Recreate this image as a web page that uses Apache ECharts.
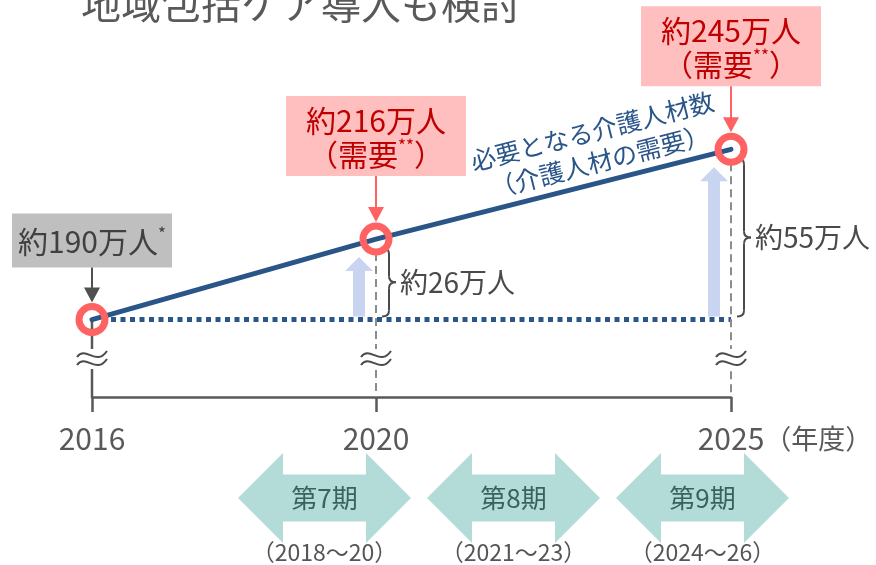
<!DOCTYPE html>
<html>
<head>
<meta charset="utf-8">
<script src="https://cdn.jsdelivr.net/npm/echarts@6/dist/echarts.min.js"></script>
<style>
  html, body { margin: 0; padding: 0; background: #fff; }
  #chart { width: 876px; height: 565px; }
</style>
</head>
<body>
<div id="chart"></div>
<script>
// ---- data ----
const title = '地域包括ケア導入も検討';
const years = [2016, 2020, 2025];
const demand = [190, 216, 245];            // 万人
const marks = ['*', '**', '**'];
const yearUnit = '（年度）';
const lineTitle = ['必要となる介護人材数', '（介護人材の需要）'];
const periods = ['第7期', '第8期', '第9期'];
const periodRanges = ['（2018～20）', '（2021～23）', '（2024～26）'];

const base = demand[0];
const points = years.map((y, i) => [y, demand[i]]);
const gaps = years.slice(1).map((y, i) => [y, base, demand[i + 1]]);

// ---- styles ----
const FONT = '"Noto Sans CJK JP", "Noto Sans", sans-serif';
const BLUE = '#2a5589';
const RING = '#ff6262';
const DARK = '#4a4a4a';
const Y_MIN = 165, Y_MAX = 290;

const chart = echarts.init(document.getElementById('chart'));

function drops(params, api) {
  const i = params.dataIndex;
  const top = api.coord([api.value(0), api.value(1)]);
  const bot = api.coord([api.value(0), Y_MIN]);
  const solid = i === 0;
  return {
    type: 'line',
    shape: { x1: top[0], y1: solid ? top[1] : top[1] + 14, x2: top[0], y2: bot[1] },
    style: solid
      ? { stroke: '#595959', lineWidth: 2.5 }
      : { stroke: '#8c8c8c', lineWidth: 2, lineDash: [8, 5] }
  };
}

function breakMark(params, api) {
  const p = api.coord([api.value(0), Y_MIN]);
  const x = p[0], y = p[1] - 38;
  const wave = (dy) => ({
    type: 'bezierCurve',
    shape: { x1: x - 15, y1: y + dy + 2, cpx1: x - 6, cpy1: y + dy - 10,
             cpx2: x + 4, cpy2: y + dy + 12, x2: x + 15, y2: y + dy - 4 },
    style: { stroke: DARK, lineWidth: 2, fill: null }
  });
  return {
    type: 'group',
    children: [
      { type: 'rect', shape: { x: x - 16, y: y - 10, width: 32, height: 20 }, style: { fill: '#fff' } },
      wave(-4), wave(4)
    ]
  };
}

function upArrow(params, api) {
  const b = api.coord([api.value(0), api.value(1)]);
  const t = api.coord([api.value(0), api.value(2)]);
  const x = b[0] - 17, bottom = b[1] - 3, tip = t[1] + 18;
  return {
    type: 'polygon',
    shape: { points: [[x - 6, bottom], [x + 6, bottom], [x + 6, tip + 14], [x + 14, tip + 14],
                      [x, tip], [x - 14, tip + 14], [x - 6, tip + 14]] },
    style: { fill: '#c8d4f0' }
  };
}

function brace(params, api) {
  const b = api.coord([api.value(0), api.value(1)]);
  const t = api.coord([api.value(0), api.value(2)]);
  const x0 = b[0] + 6, w = 14, xm = x0 + w / 2, r = 6;
  const top = t[1] + 9, bot = b[1] - 3, mid = (top + bot) / 2;
  const st = { stroke: DARK, lineWidth: 2, fill: null };
  const q = (x1, y1, cx, cy, x2, y2) => ({ type: 'bezierCurve', shape: { x1, y1, cpx1: cx, cpy1: cy, x2, y2 }, style: st });
  const l = (x1, y1, x2, y2) => ({ type: 'line', shape: { x1, y1, x2, y2 }, style: st });
  return {
    type: 'group',
    children: [
      q(x0, top, xm, top, xm, top + r),
      l(xm, top + r, xm, mid - r),
      q(xm, mid - r, xm, mid, x0 + w, mid),
      q(x0 + w, mid, xm, mid, xm, mid + r),
      l(xm, mid + r, xm, bot - r),
      q(xm, bot - r, xm, bot, x0, bot),
      {
        type: 'text', x: x0 + w + 4, y: mid,
        style: { text: '約' + (api.value(2) - api.value(1)) + '万人', fill: DARK,
                 font: '28px ' + FONT, align: 'left', verticalAlign: 'middle' }
      }
    ]
  };
}

function callout(params, api) {
  const i = params.dataIndex;
  const v = api.value(1);
  const p = api.coord([api.value(0), v]);
  const cfg = i === 0
    ? { w: 160, h: 54, gap: 52, fill: '#bfbfbf', color: '#404040', arrow: '#505050',
        text: '{a|約' + v + '万人}{s|' + marks[i] + '}' }
    : { w: 180, h: 80, gap: 63, fill: '#ffbfbf', color: '#c00000', arrow: RING,
        text: '{a|約' + v + '万人}\n{a|（需要}{s|' + marks[i] + '}{a|）}' };
  const bottom = p[1] - cfg.gap, top = bottom - cfg.h;
  return {
    type: 'group',
    children: [
      { type: 'rect', shape: { x: p[0] - cfg.w / 2, y: top, width: cfg.w, height: cfg.h }, style: { fill: cfg.fill } },
      {
        type: 'text', x: p[0], y: top + cfg.h / 2 + 1,
        style: {
          text: cfg.text, align: 'center', verticalAlign: 'middle',
          rich: {
            a: { fontSize: 30, fontFamily: FONT, fill: cfg.color, lineHeight: 34 },
            s: { fontSize: 17, fontFamily: FONT, fill: cfg.color, lineHeight: 34, verticalAlign: 'top' }
          }
        }
      },
      { type: 'line', shape: { x1: p[0], y1: bottom, x2: p[0], y2: p[1] - 30 }, style: { stroke: cfg.arrow, lineWidth: 2 } },
      { type: 'polygon', shape: { points: [[p[0] - 8, p[1] - 32], [p[0] + 8, p[1] - 32], [p[0], p[1] - 17]] }, style: { fill: cfg.arrow } }
    ]
  };
}

function lineLabel(params, api) {
  const a = api.coord([api.value(0), api.value(1)]);
  const b = api.coord([api.value(2), api.value(3)]);
  const ang = Math.atan2(a[1] - b[1], b[0] - a[0]);
  const t = 0.645, d = 36;
  const x = a[0] + (b[0] - a[0]) * t - Math.sin(ang) * d;
  const y = a[1] + (b[1] - a[1]) * t - Math.cos(ang) * d;
  return {
    type: 'text', x, y, rotation: ang,
    style: { text: lineTitle.join('\n'), fill: BLUE, font: '25px ' + FONT,
             lineHeight: 31, align: 'center', verticalAlign: 'middle' }
  };
}

function periodArrow(params, api) {
  const i = params.dataIndex;
  const c = api.coord([api.value(0), 0.5]);
  const half = api.size([1, 0])[0] / 2 - 8;
  const head = 45, hh = 45, bh = 23.5;
  const x = c[0], y = c[1];
  return {
    type: 'group',
    children: [
      {
        type: 'polygon',
        shape: { points: [
          [x - half, y], [x - half + head, y - hh], [x - half + head, y - bh],
          [x + half - head, y - bh], [x + half - head, y - hh], [x + half, y],
          [x + half - head, y + hh], [x + half - head, y + bh], [x - half + head, y + bh],
          [x - half + head, y + hh]
        ] },
        style: { fill: '#b3dcd9' }
      },
      { type: 'text', x, y, style: { text: periods[i], fill: '#3a625d', font: '26px ' + FONT, align: 'center', verticalAlign: 'middle' } },
      { type: 'text', x, y: y + 54, style: { text: periodRanges[i], fill: '#555', font: '23px ' + FONT, align: 'center', verticalAlign: 'middle' } }
    ]
  };
}

const option = {
  backgroundColor: '#fff',
  animation: false,
  title: {
    text: title, left: 81, top: -16, padding: 0,
    textStyle: { fontSize: 40, fontWeight: 'normal', color: '#595959', fontFamily: FONT }
  },
  grid: [
    { left: 92, right: 145, top: 10, bottom: 168 },
    { left: 230, right: 79, top: 453, height: 90 }
  ],
  xAxis: [
    {
      type: 'value', min: years[0], max: years[years.length - 1],
      splitLine: { show: false },
      axisLine: { lineStyle: { color: '#595959', width: 2.5 } },
      axisTick: { customValues: years, length: 15, lineStyle: { color: '#595959', width: 2.5 } },
      axisLabel: {
        customValues: years, margin: 27, color: '#595959', fontSize: 30, fontFamily: FONT,
        formatter: (v) => v === years[years.length - 1] ? '{p| }' + v + '{u|' + yearUnit + '}' : String(v),
        rich: {
          p: { width: 108 },
          u: { fontSize: 27, fontFamily: FONT, color: '#595959' }
        }
      }
    },
    { type: 'category', gridIndex: 1, data: periods, show: false }
  ],
  yAxis: [
    { type: 'value', min: Y_MIN, max: Y_MAX, show: false },
    { type: 'value', gridIndex: 1, min: 0, max: 1, show: false }
  ],
  series: [
    {
      type: 'line', data: [[years[0], base], [years[years.length - 1], base]],
      symbol: 'none', silent: true, z: 1,
      lineStyle: { color: BLUE, width: 5, type: [5, 4.5], cap: 'butt' }
    },
    { type: 'custom', data: gaps, renderItem: upArrow, z: 2, silent: true },
    { type: 'scatter', data: points, symbolSize: 24, itemStyle: { color: '#fff', opacity: 1 }, z: 3, silent: true },
    { type: 'custom', data: points, renderItem: drops, z: 4, silent: true },
    { type: 'custom', data: years.map(y => [y]), renderItem: breakMark, z: 5, silent: true },
    { type: 'custom', data: gaps, renderItem: brace, z: 5, silent: true },
    {
      type: 'line', data: points, symbol: 'none', silent: true, z: 6,
      lineStyle: { color: BLUE, width: 5, cap: 'round' }
    },
    {
      type: 'scatter', data: points, symbolSize: 26, z: 7, silent: true,
      itemStyle: { color: 'rgba(255,255,255,0)', borderColor: RING, borderWidth: 7, opacity: 1 }
    },
    { type: 'custom', data: points, renderItem: callout, z: 8, silent: true },
    {
      type: 'custom', data: [[years[1], demand[1], years[2], demand[2]]],
      encode: { x: [0, 2], y: [1, 3] }, renderItem: lineLabel, z: 8, silent: true
    },
    {
      type: 'custom', xAxisIndex: 1, yAxisIndex: 1,
      data: periods.map((p, i) => [i]), renderItem: periodArrow, silent: true
    }
  ]
};

chart.setOption(option);
</script>
</body>
</html>
